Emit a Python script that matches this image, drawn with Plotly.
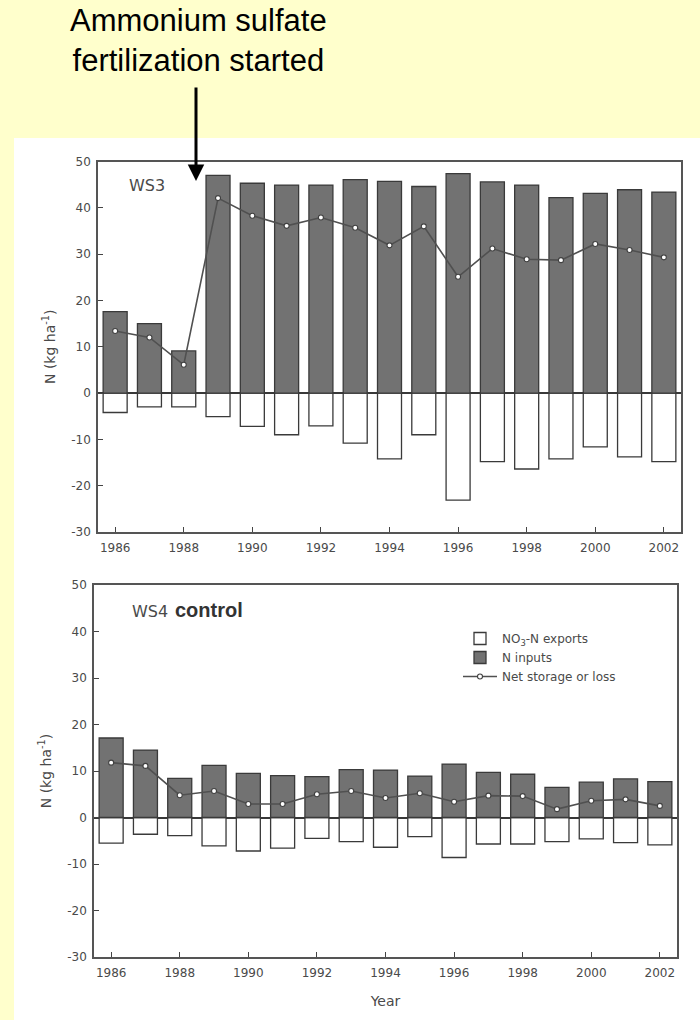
import plotly.graph_objects as go

years = list(range(1986, 2003))
tick_years = list(range(1986, 2003, 2))
y_ticks = [-30, -20, -10, 0, 10, 20, 30, 40, 50]
y_tick_labels = ["-30", "-20", "-10", "0", "10", "20", "30", "40", "50"]

ws3_inputs = [17.6, 15.0, 9.1, 47.0, 45.3, 44.9, 44.9, 46.1, 45.7, 44.6, 47.4, 45.6, 44.9, 42.2, 43.1, 43.9, 43.4]
ws3_exports = [-4.2, -3.0, -3.0, -5.1, -7.2, -9.0, -7.1, -10.8, -14.2, -9.0, -23.1, -14.8, -16.4, -14.2, -11.6, -13.8, -14.8]
ws3_net = [13.4, 12.0, 6.1, 42.1, 38.3, 36.1, 37.9, 35.7, 31.9, 36.0, 25.1, 31.2, 28.9, 28.7, 32.2, 30.9, 29.3]

ws4_inputs = [17.1, 14.5, 8.4, 11.2, 9.5, 9.0, 8.8, 10.3, 10.2, 8.9, 11.5, 9.7, 9.3, 6.5, 7.6, 8.3, 7.7]
ws4_exports = [-5.5, -3.6, -3.9, -6.1, -7.2, -6.6, -4.5, -5.2, -6.4, -4.1, -8.6, -5.7, -5.7, -5.2, -4.6, -5.4, -5.9]
ws4_net = [11.8, 11.1, 4.8, 5.7, 2.9, 2.9, 5.0, 5.7, 4.2, 5.2, 3.4, 4.7, 4.6, 1.8, 3.6, 3.9, 2.5]

W, H = 700, 1020
SCAN_FONT = "DejaVu Sans"
SCAN_COLOR = "#4a4a4a"
INPUT_FILL = "#727272"
EDGE = "#3a3a3a"


def px_x(p):
    return p / W


def px_y(p):
    return 1 - p / H


fig = go.Figure()


def add_panel(inputs, exports, net, xa, ya, legend):
    fig.add_trace(go.Bar(
        x=years, y=exports, name="NO<sub>3</sub>-N exports", width=0.7,
        marker=dict(color="white", line=dict(color=EDGE, width=1.3)),
        xaxis=xa, yaxis=ya, showlegend=legend, legendrank=1))
    fig.add_trace(go.Bar(
        x=years, y=inputs, name="N inputs", width=0.7,
        marker=dict(color=INPUT_FILL, line=dict(color=EDGE, width=1.3)),
        xaxis=xa, yaxis=ya, showlegend=legend, legendrank=2))
    fig.add_trace(go.Scatter(
        x=years, y=net, name="Net storage or loss", mode="lines+markers",
        line=dict(color="#505050", width=1.6),
        marker=dict(size=5, color="white", line=dict(color="#404040", width=1.1)),
        xaxis=xa, yaxis=ya, showlegend=legend, legendrank=3))


add_panel(ws3_inputs, ws3_exports, ws3_net, "x", "y", False)
add_panel(ws4_inputs, ws4_exports, ws4_net, "x2", "y2", True)

axis_common = dict(
    showline=True, linecolor="#555555", linewidth=1.5, mirror=True,
    ticks="inside", ticklen=5, tickwidth=1.2, tickcolor="#444444",
    showgrid=False, automargin=False,
    tickfont=dict(family=SCAN_FONT, size=12, color=SCAN_COLOR),
)

xcommon = dict(axis_common, range=[1985.5, 2002.5], tickvals=tick_years,
               ticktext=[str(y) for y in tick_years], ticklabelstandoff=4)
ycommon = dict(axis_common, range=[-30, 50], tickvals=y_ticks, ticktext=y_tick_labels,
               zeroline=True, zerolinecolor="#383838", zerolinewidth=1.6, ticklabelstandoff=3)

ytitle = dict(text="N (kg ha<sup>-1</sup>)", font=dict(family=SCAN_FONT, size=14, color=SCAN_COLOR), standoff=12)

fig.update_layout(
    width=W, height=H,
    margin=dict(l=0, r=0, t=0, b=0, autoexpand=False),
    paper_bgcolor="#FFFFCC",
    plot_bgcolor="white",
    barmode="overlay",
    xaxis=dict(xcommon, domain=[px_x(98), px_x(681)], anchor="y"),
    yaxis=dict(ycommon, domain=[px_y(532), px_y(161.5)], anchor="x", title=ytitle),
    xaxis2=dict(xcommon, domain=[px_x(94), px_x(677)], anchor="y2",
                title=dict(text="Year", font=dict(family=SCAN_FONT, size=14, color=SCAN_COLOR), standoff=17)),
    yaxis2=dict(ycommon, domain=[px_y(957), px_y(585)], anchor="x2", title=ytitle),
    legend=dict(
        x=px_x(458), y=px_y(624), xanchor="left", yanchor="top",
        bgcolor="rgba(0,0,0,0)", borderwidth=0,
        font=dict(family=SCAN_FONT, size=12, color=SCAN_COLOR),
        itemwidth=34, tracegroupgap=0,
    ),
    shapes=[dict(type="rect", xref="paper", yref="paper",
                 x0=px_x(14), x1=1, y0=0, y1=px_y(138),
                 fillcolor="white", line=dict(width=0), layer="below")],
    annotations=[
        dict(text="Ammonium sulfate<br>fertilization started", xref="paper", yref="paper",
             x=px_x(198), y=px_y(41), xanchor="center", yanchor="middle", showarrow=False,
             font=dict(family="Liberation Sans, Arial", size=31, color="black")),
        dict(text="", xref="paper", yref="paper", x=px_x(196), y=px_y(181),
             ax=0, ay=-95, showarrow=True, arrowhead=2, arrowsize=1.1, arrowwidth=3,
             arrowcolor="black"),
        dict(text="WS3", xref="paper", yref="paper", x=px_x(127), y=px_y(185),
             xanchor="left", yanchor="middle", showarrow=False,
             font=dict(family=SCAN_FONT, size=16, color=SCAN_COLOR)),
        dict(text="WS4", xref="paper", yref="paper", x=px_x(130), y=px_y(611),
             xanchor="left", yanchor="middle", showarrow=False,
             font=dict(family=SCAN_FONT, size=16, color=SCAN_COLOR)),
        dict(text="<b>control</b>", xref="paper", yref="paper", x=px_x(173), y=px_y(610),
             xanchor="left", yanchor="middle", showarrow=False,
             font=dict(family="Liberation Sans, Arial", size=20, color="#333333")),
    ],
)

fig.write_html("out.html")
